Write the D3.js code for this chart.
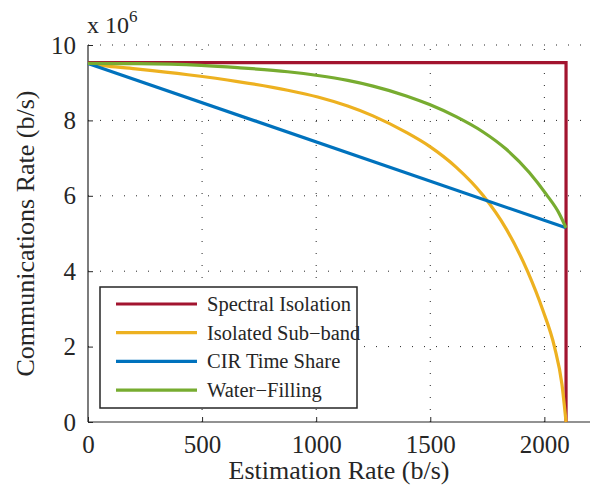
<!DOCTYPE html>
<html><head><meta charset="utf-8">
<script src="https://cdn.jsdelivr.net/npm/d3@7"></script>
<style>
body{margin:0;background:#fff;}
svg{display:block;}
text{font-family:"Liberation Serif","Times New Roman",serif;fill:#262626;}
</style></head>
<body><svg id="c" width="596" height="491"></svg>
<script>
// Data (rates in units of 1e6 b/s)
const seriesNames = ["Spectral Isolation","Isolated Sub\u2212band","CIR Time Share","Water\u2212Filling"];
const seriesColors = ["#A2142F","#EDB120","#0072BD","#77AC30"];
const xTicks = [0,500,1000,1500,2000];
const yTicks = [0,2,4,6,8,10];

const spectralX = [0, 2095, 2095];
const spectralY = [9.53, 9.53, 0];

const subbandX = [0,88,219,438,656,875,1007,1138,1249,1395,1497,1613,1730,1832,1926,1993,2044,2077,2095];
const subbandY = [9.51,9.44,9.36,9.21,9.03,8.80,8.62,8.38,8.12,7.68,7.31,6.76,6.02,5.13,4.00,2.97,2.00,1.00,0];

const cirX = [0, 2095];
const cirY = [9.51, 5.15];

const waterX = [0,219,496,656,875,1007,1138,1249,1395,1497,1613,1730,1832,1934,2007,2066,2095];
const waterY = [9.51,9.505,9.46,9.40,9.29,9.19,9.06,8.91,8.65,8.42,8.10,7.70,7.24,6.62,6.05,5.52,5.15];

const svg = d3.select("#c");
const L=88, R=590, T=45, B=422;
const x = d3.scaleLinear().domain([0,2200]).range([L,R]);
const y = d3.scaleLinear().domain([0,10]).range([B,T]);

// grid
const g = svg.append("g");
g.selectAll(".vg").data(xTicks.filter(d=>d>0)).enter().append("line")
  .attr("x1",d=>x(d)).attr("x2",d=>x(d)).attr("y1",B).attr("y2",T)
  .attr("stroke","#262626").attr("stroke-width",1).attr("stroke-dasharray","1,11");
g.selectAll(".hg").data(yTicks.filter(d=>d>0)).enter().append("line")
  .attr("y1",d=>y(d)).attr("y2",d=>y(d)).attr("x1",L).attr("x2",R)
  .attr("stroke","#262626").attr("stroke-width",1).attr("stroke-dasharray","1,11");

// axes
const xAxis = d3.axisBottom(x).tickValues(xTicks).tickFormat(d3.format("d")).tickSizeInner(-5).tickSizeOuter(0).tickPadding(13);
const yAxis = d3.axisLeft(y).tickValues(yTicks).tickFormat(d3.format("d")).tickSizeInner(-5).tickSizeOuter(0).tickPadding(12);
const gx = svg.append("g").attr("transform",`translate(0,${B})`).call(xAxis);
const gy = svg.append("g").attr("transform",`translate(${L},0)`).call(yAxis);
[gx,gy].forEach(a=>{
  a.select(".domain").attr("stroke","#262626").attr("stroke-width",1.2);
  a.selectAll(".tick line").attr("stroke","#262626");
  a.selectAll("text").attr("font-size",25).attr("font-family","Liberation Serif").attr("fill","#262626");
});
gy.select(".domain").attr("d",`M0,${B}V${T}`);
gx.select(".domain").attr("d",`M${L},0H${R}`);

// lines
const line = d3.line().x(d=>x(d[0])).y(d=>y(d[1]));
const lineS = d3.line().x(d=>x(d[0])).y(d=>y(d[1])).curve(d3.curveMonotoneX);
const zip=(a,b)=>a.map((v,i)=>[v,b[i]]);
const series = [
  {xs:spectralX, ys:spectralY, gen:line},
  {xs:subbandX, ys:subbandY, gen:lineS},
  {xs:cirX, ys:cirY, gen:line},
  {xs:waterX, ys:waterY, gen:lineS}
];
series.forEach((s,i)=>{
  svg.append("path").attr("d",s.gen(zip(s.xs,s.ys))).attr("fill","none")
    .attr("stroke",seriesColors[i]).attr("stroke-width",3.2).attr("stroke-linejoin","miter");
});

// exponent
const ex = svg.append("text").attr("x",87).attr("y",33).attr("font-size",24);
ex.append("tspan").text("x 10");
ex.append("tspan").attr("dy",-11).attr("font-size",17).text("6");

// axis labels
svg.append("text").attr("x",339).attr("y",479).attr("text-anchor","middle").attr("font-size",26)
  .text("Estimation Rate (b/s)");
svg.append("text").attr("transform",`translate(34,${(T+B)/2}) rotate(-90)`).attr("text-anchor","middle").attr("font-size",26)
  .text("Communications Rate (b/s)");

// legend
const lg = svg.append("g");
lg.append("rect").attr("x",100).attr("y",287).attr("width",257).attr("height",121)
  .attr("fill","#fff").attr("stroke","#262626").attr("stroke-width",1.5);
seriesNames.forEach((n,i)=>{
  const yy = 304 + i*28.7;
  lg.append("line").attr("x1",116).attr("x2",197).attr("y1",yy).attr("y2",yy)
    .attr("stroke",seriesColors[i]).attr("stroke-width",3.2);
  lg.append("text").attr("x",207).attr("y",yy+7).attr("font-size",20.5).text(n);
});
</script></body></html>
